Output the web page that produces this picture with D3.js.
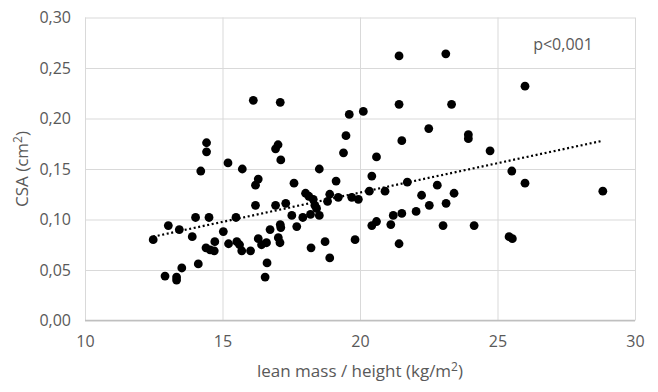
<!DOCTYPE html>
<html>
<head>
<meta charset="utf-8">
<script src="https://cdn.jsdelivr.net/npm/d3@7"></script>
<style>
  body { margin: 0; background: #fff; }
  text { font-family: "Open Sans", sans-serif; fill: #595959; }
</style>
</head>
<body>
<div id="chart"></div>
<script>
// lean mass / height (kg/m2)
const leanMass = [
  12.48, 13.03, 13.43, 12.91, 13.33, 13.33, 13.52, 13.90, 14.02, 14.12,
  14.51, 14.40, 14.55, 14.70, 14.72, 15.03, 15.22, 15.49, 15.52, 15.62,
  15.70, 16.02, 16.20, 16.30, 16.42, 16.60, 16.55, 16.62, 16.73, 16.93,
  17.03, 17.09, 17.10, 17.12, 17.30, 17.52, 17.70, 17.92, 18.22, 18.20,
  18.36, 18.42, 18.52, 18.73, 18.90, 18.02, 18.14, 18.30, 18.82, 18.90,
  19.21, 19.13, 14.21, 14.42, 14.42, 15.20, 15.72, 16.12, 17.10, 16.30,
  16.20, 16.93, 17.02, 17.12, 17.60, 18.52, 19.61, 20.12, 21.42, 23.33,
  19.49, 19.40, 22.50, 21.52, 20.60, 20.43, 21.42, 23.12, 26.00, 23.94,
  23.94, 24.73, 25.52, 26.00, 28.83, 21.72, 22.81, 20.91, 20.34, 22.24,
  23.42, 19.70, 19.94, 22.52, 23.13, 22.04, 21.52, 21.21, 20.60, 20.43,
  21.12, 23.02, 24.15, 19.82, 21.42, 25.42, 25.54
];
// CSA (cm2)
const csa = [
  0.080, 0.094, 0.090, 0.044, 0.043, 0.040, 0.052, 0.083, 0.102, 0.056,
  0.102, 0.072, 0.070, 0.069, 0.078, 0.088, 0.076, 0.102, 0.078, 0.075,
  0.069, 0.069, 0.114, 0.081, 0.075, 0.077, 0.043, 0.057, 0.090, 0.114,
  0.082, 0.077, 0.095, 0.092, 0.116, 0.104, 0.093, 0.102, 0.072, 0.105,
  0.114, 0.111, 0.104, 0.078, 0.062, 0.126, 0.123, 0.120, 0.118, 0.125,
  0.122, 0.138, 0.148, 0.176, 0.167, 0.156, 0.150, 0.218, 0.216, 0.140,
  0.134, 0.170, 0.174, 0.159, 0.136, 0.150, 0.204, 0.207, 0.214, 0.214,
  0.183, 0.166, 0.190, 0.178, 0.162, 0.143, 0.262, 0.264, 0.232, 0.184,
  0.180, 0.168, 0.148, 0.136, 0.128, 0.137, 0.134, 0.128, 0.128, 0.124,
  0.126, 0.122, 0.120, 0.114, 0.116, 0.108, 0.106, 0.104, 0.098, 0.094,
  0.095, 0.094, 0.094, 0.080, 0.076, 0.083, 0.081
];
// linear trend line end points
const trendX = [12.48, 28.83];
const trendY = [0.083, 0.178];

const xTicks = [10, 15, 20, 25, 30];
const yTicks = [0, 0.05, 0.10, 0.15, 0.20, 0.25, 0.30];

const width = 658, height = 392;
const margin = {top: 17.5, right: 23, bottom: 71.5, left: 85};

const fmt = d3.format(".2f");
const comma = d => fmt(d).replace(".", ",");

const x = d3.scaleLinear().domain([10, 30]).range([margin.left, width - margin.right]);
const y = d3.scaleLinear().domain([0, 0.30]).range([height - margin.bottom, margin.top]);

const svg = d3.select("#chart").append("svg")
    .attr("width", width)
    .attr("height", height);

// grid
svg.append("g")
    .attr("transform", `translate(0,${height - margin.bottom})`)
    .call(d3.axisBottom(x).tickValues(xTicks).tickSize(0).tickPadding(15))
    .call(g => g.select(".domain").remove())
    .call(g => g.selectAll(".tick line").clone()
        .attr("y2", margin.top + margin.bottom - height)
        .attr("stroke", "#d9d9d9"))
    .call(g => g.selectAll(".tick text")
        .attr("font-size", 16)
        .attr("font-family", "Open Sans")
        .attr("fill", "#595959"));

svg.append("g")
    .attr("transform", `translate(${margin.left},0)`)
    .call(d3.axisLeft(y).tickValues(yTicks).tickFormat(comma).tickSize(0).tickPadding(14))
    .call(g => g.select(".domain").remove())
    .call(g => g.selectAll(".tick line").clone()
        .attr("x2", width - margin.left - margin.right)
        .attr("stroke", "#d9d9d9"))
    .call(g => g.selectAll(".tick text")
        .attr("font-size", 16)
        .attr("font-family", "Open Sans")
        .attr("fill", "#595959"));

// x axis line
svg.append("line")
    .attr("x1", margin.left).attr("x2", width - margin.right)
    .attr("y1", y(0)).attr("y2", y(0))
    .attr("stroke", "#bfbfbf")
    .attr("stroke-width", 1.3);

// points
svg.append("g")
    .selectAll("circle")
    .data(leanMass.map((d, i) => [d, csa[i]]))
    .join("circle")
    .attr("cx", d => x(d[0]))
    .attr("cy", d => y(d[1]))
    .attr("r", 4.4)
    .attr("fill", "#000");

// trend line
svg.append("path")
    .datum(trendX.map((d, i) => [d, trendY[i]]))
    .attr("d", d3.line().x(d => x(d[0])).y(d => y(d[1])))
    .attr("fill", "none")
    .attr("stroke", "#000")
    .attr("stroke-width", 2.2)
    .attr("stroke-dasharray", "2,2.6");

// labels
svg.append("text")
    .attr("x", 563)
    .attr("y", 50)
    .attr("text-anchor", "middle")
    .attr("font-size", 16)
    .text("p<0,001");

svg.append("text")
    .attr("x", x(20))
    .attr("y", 377)
    .attr("text-anchor", "middle")
    .attr("font-size", 17)
    .html('lean mass / height (kg/m<tspan dy="-6" font-size="12">2</tspan><tspan dy="6">)</tspan>');

svg.append("text")
    .attr("transform", `translate(28,${(y(0) + y(0.30)) / 2}) rotate(-90)`)
    .attr("text-anchor", "middle")
    .attr("font-size", 17)
    .html('CSA (cm<tspan dy="-6" font-size="12">2</tspan><tspan dy="6">)</tspan>');
</script>
</body>
</html>
